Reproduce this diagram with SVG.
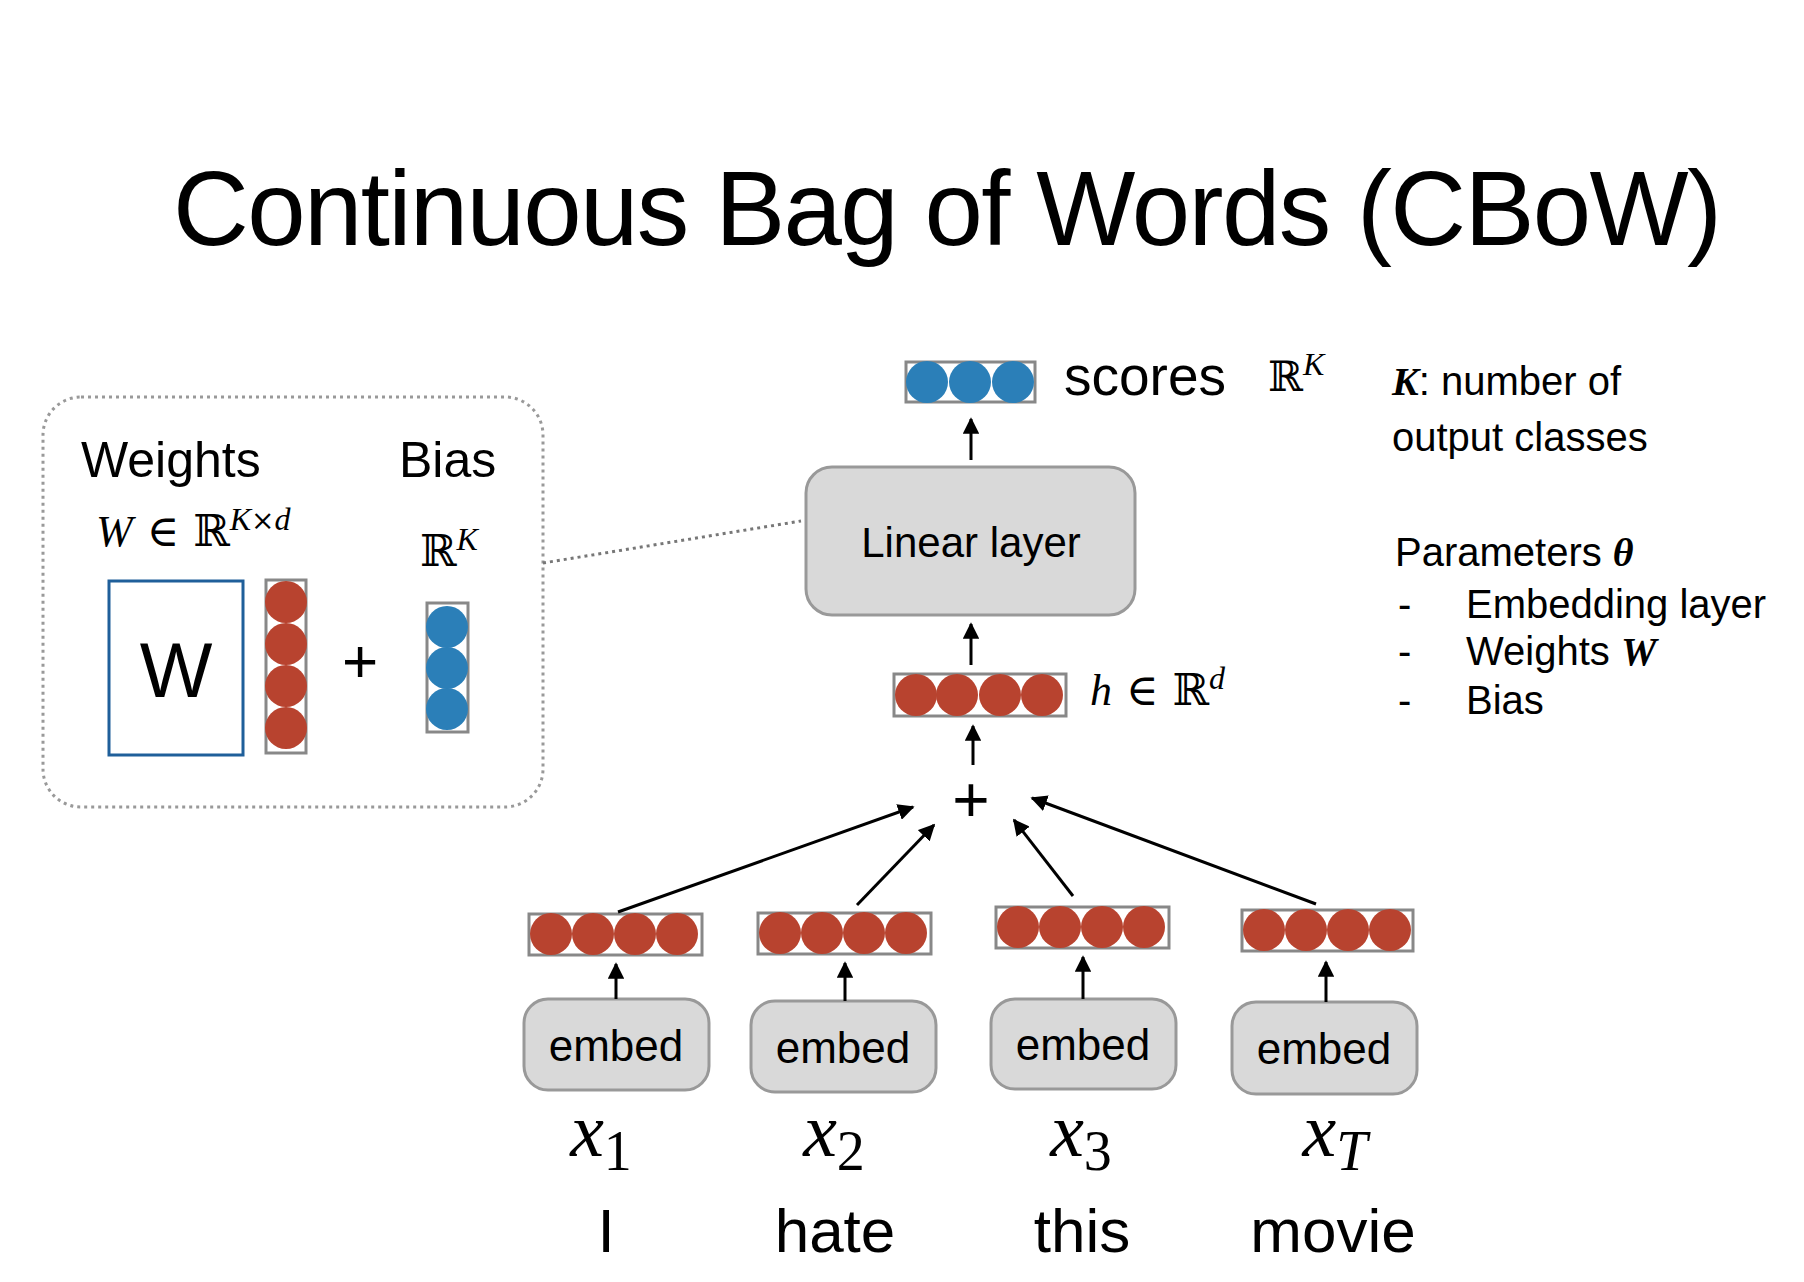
<svg xmlns="http://www.w3.org/2000/svg" width="1804" height="1282" viewBox="0 0 1804 1282">
<style>
.s{font-family:"Liberation Sans",Arial,sans-serif;fill:#000}
.m{font-family:"Liberation Serif","Times New Roman",serif;font-style:italic;fill:#000}
.bb{font-family:"DejaVu Serif",serif;fill:#000}
.n{font-family:"Liberation Serif","Times New Roman",serif;fill:#000}
.r{fill:#b8432f}
.b{fill:#2b7fb8}
.bar{fill:#fff;stroke:#888;stroke-width:3}
.box{fill:#d9d9d9;stroke:#999;stroke-width:3}
.c{stroke:#000;stroke-width:3;fill:none;marker-end:url(#ah)}
</style>
<defs>
<marker id="ah" viewBox="0 0 10 10" refX="9" refY="5" markerWidth="5.5" markerHeight="5.5" orient="auto"><path d="M0,0L10,5L0,10z" fill="#000"/></marker>
</defs>
<rect width="1804" height="1282" fill="#fff"/>
<text id="title" class="s" x="173" y="245" font-size="105" textLength="1549">Continuous Bag of Words (CBoW)</text>

<g id="params-box">
<rect x="43" y="397" width="500" height="410" rx="38" fill="none" stroke="#999" stroke-width="3" stroke-dasharray="3,4"/>
<text class="s" x="81" y="477" font-size="50">Weights</text>
<text class="s" x="399" y="477" font-size="50">Bias</text>
<text x="96" y="546" font-size="44"><tspan class="m">W</tspan><tspan class="bb"> ∈ ℝ</tspan><tspan class="m" dy="-16" font-size="32">K</tspan><tspan class="bb" font-size="28">×</tspan><tspan class="m" font-size="32">d</tspan></text>
<text x="420" y="566" font-size="44"><tspan class="bb">ℝ</tspan><tspan class="m" dy="-16" font-size="32">K</tspan></text>
<rect x="109" y="581" width="134" height="174" fill="#fff" stroke="#1f5f9a" stroke-width="3"/>
<text class="s" x="176" y="697" font-size="77" text-anchor="middle">W</text>
<rect class="bar" x="266" y="580" width="40" height="173"/>
<circle class="r" cx="286" cy="602" r="21"/><circle class="r" cx="286" cy="644" r="21"/><circle class="r" cx="286" cy="686" r="21"/><circle class="r" cx="286" cy="728" r="21"/>
<text class="s" x="360" y="682" font-size="62" text-anchor="middle">+</text>
<rect class="bar" x="427" y="603" width="41" height="129"/>
<circle class="b" cx="447" cy="627" r="21"/><circle class="b" cx="447" cy="668" r="21"/><circle class="b" cx="447" cy="709" r="21"/>
</g>

<g id="linear">
<rect class="box" x="806" y="467" width="329" height="148" rx="26"/>
<text class="s" x="971" y="557" font-size="42" text-anchor="middle">Linear layer</text>
</g>
<g id="scores">
<rect class="bar" x="906" y="362" width="129" height="40"/>
<circle class="b" cx="927" cy="382" r="21"/><circle class="b" cx="970" cy="382" r="21"/><circle class="b" cx="1013" cy="382" r="21"/>
<text class="s" x="1064" y="395" font-size="55">scores</text>
<text x="1268" y="391" font-size="42"><tspan class="bb">ℝ</tspan><tspan class="m" dy="-16" font-size="32">K</tspan></text>
</g>
<g id="hidden">
<rect class="bar" x="894" y="674" width="172" height="42"/>
<circle class="r" cx="916" cy="695" r="21"/><circle class="r" cx="957" cy="695" r="21"/><circle class="r" cx="1000" cy="695" r="21"/><circle class="r" cx="1042" cy="695" r="21"/>
<text x="1090" y="705" font-size="44"><tspan class="m">h</tspan><tspan class="bb"> ∈ ℝ</tspan><tspan class="m" dy="-16" font-size="32">d</tspan></text>
</g>
<g id="plus"><text class="s" x="971" y="822" font-size="64" text-anchor="middle">+</text></g>

<g id="legend">
<text x="1392" y="395" font-size="40"><tspan class="m" font-weight="bold">K</tspan><tspan class="s">: number of</tspan></text>
<text class="s" x="1392" y="451" font-size="40">output classes</text>
<text x="1395" y="566" font-size="40"><tspan class="s">Parameters </tspan><tspan class="m" font-weight="bold">θ</tspan></text>
<text class="s" x="1398" y="618" font-size="40">-</text>
<text class="s" x="1466" y="618" font-size="40">Embedding layer</text>
<text class="s" x="1398" y="665" font-size="40">-</text>
<text x="1466" y="665" font-size="40"><tspan class="s">Weights </tspan><tspan class="m" font-weight="bold">W</tspan></text>
<text class="s" x="1398" y="714" font-size="40">-</text>
<text class="s" x="1466" y="714" font-size="40">Bias</text>
</g>

<g id="vec1"><rect class="bar" x="529" y="914" width="173" height="41"/>
<circle class="r" cx="551" cy="934" r="21"/><circle class="r" cx="593" cy="934" r="21"/><circle class="r" cx="635" cy="934" r="21"/><circle class="r" cx="677" cy="934" r="21"/></g>
<g id="vec2"><rect class="bar" x="758" y="913" width="173" height="41"/>
<circle class="r" cx="780" cy="933" r="21"/><circle class="r" cx="822" cy="933" r="21"/><circle class="r" cx="864" cy="933" r="21"/><circle class="r" cx="906" cy="933" r="21"/></g>
<g id="vec3"><rect class="bar" x="996" y="907" width="173" height="41"/>
<circle class="r" cx="1018" cy="927" r="21"/><circle class="r" cx="1060" cy="927" r="21"/><circle class="r" cx="1102" cy="927" r="21"/><circle class="r" cx="1144" cy="927" r="21"/></g>
<g id="vec4"><rect class="bar" x="1242" y="910" width="171" height="41"/>
<circle class="r" cx="1264" cy="930" r="21"/><circle class="r" cx="1306" cy="930" r="21"/><circle class="r" cx="1348" cy="930" r="21"/><circle class="r" cx="1390" cy="930" r="21"/></g>

<g id="embed1"><rect class="box" x="524" y="999" width="185" height="91" rx="24"/><text class="s" x="616" y="1061" font-size="44" text-anchor="middle">embed</text></g>
<g id="embed2"><rect class="box" x="751" y="1001" width="185" height="91" rx="24"/><text class="s" x="843" y="1063" font-size="44" text-anchor="middle">embed</text></g>
<g id="embed3"><rect class="box" x="991" y="999" width="185" height="90" rx="24"/><text class="s" x="1083" y="1060" font-size="44" text-anchor="middle">embed</text></g>
<g id="embed4"><rect class="box" x="1232" y="1002" width="185" height="92" rx="24"/><text class="s" x="1324" y="1064" font-size="44" text-anchor="middle">embed</text></g>

<g id="inputs">
<text x="601" y="1156" font-size="76" text-anchor="middle"><tspan class="m">x</tspan><tspan class="n" font-size="56" dy="14">1</tspan></text>
<text x="834" y="1156" font-size="76" text-anchor="middle"><tspan class="m">x</tspan><tspan class="n" font-size="56" dy="14">2</tspan></text>
<text x="1081" y="1156" font-size="76" text-anchor="middle"><tspan class="m">x</tspan><tspan class="n" font-size="56" dy="14">3</tspan></text>
<text x="1335" y="1156" font-size="76" text-anchor="middle"><tspan class="m">x</tspan><tspan class="m" font-size="56" dy="14">T</tspan></text>
<text class="s" x="606" y="1252" font-size="62" text-anchor="middle">I</text>
<text class="s" x="835" y="1252" font-size="62" text-anchor="middle">hate</text>
<text class="s" x="1082" y="1252" font-size="62" text-anchor="middle">this</text>
<text class="s" x="1333" y="1252" font-size="62" text-anchor="middle">movie</text>
</g>

<g id="connectors">
<path d="M543,563L801,521" stroke="#777" stroke-width="3" stroke-dasharray="3,4" fill="none"/>
<path class="c" d="M971,460V419"/>
<path class="c" d="M971,665V624"/>
<path class="c" d="M973,765V726"/>
<path class="c" d="M618,912L913,807"/>
<path class="c" d="M857,905L934,825"/>
<path class="c" d="M1073,896L1014,820"/>
<path class="c" d="M1316,904L1032,798"/>
<path class="c" d="M616,999V964"/>
<path class="c" d="M845,1001V963"/>
<path class="c" d="M1083,999V957"/>
<path class="c" d="M1326,1002V962"/>
</g>
</svg>
